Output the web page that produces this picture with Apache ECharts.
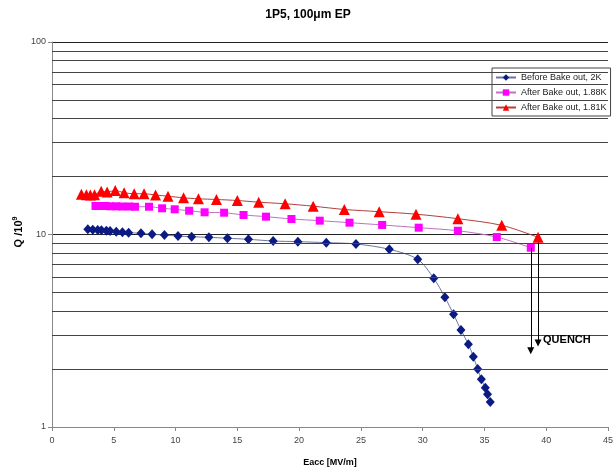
<!DOCTYPE html>
<html>
<head>
<meta charset="utf-8">
<script src="https://cdn.jsdelivr.net/npm/echarts@6/dist/echarts.min.js"></script>
<style>
html,body{margin:0;padding:0;background:#fff;}
#chart{width:616px;height:472px;}
</style>
</head>
<body>
<div id="chart"></div>
<script>
// ---- data ----
var titleText = '1P5, 100\u03bcm EP';
var seriesNames = ['Before Bake out, 2K', 'After Bake out, 1.88K', 'After Bake out, 1.81K'];
var xTicks = [0, 5, 10, 15, 20, 25, 30, 35, 40, 45];
var yTicks = [1, 10, 100];
var minorGridValues = [2, 3, 4, 5, 6, 7, 8, 9, 20, 30, 40, 50, 60, 70, 80, 90];

var blueX = [2.9, 3.3, 3.7, 4.0, 4.4, 4.7, 5.2, 5.7, 6.2, 7.2, 8.1, 9.1, 10.2, 11.3, 12.7, 14.2, 15.9, 17.9, 19.9, 22.2, 24.6, 27.3, 29.6, 30.9, 31.8, 32.5, 33.1, 33.7, 34.1, 34.45, 34.75, 35.07, 35.25, 35.47];
var blueQ = [10.64, 10.59, 10.55, 10.51, 10.46, 10.43, 10.34, 10.27, 10.22, 10.14, 10.02, 9.94, 9.82, 9.74, 9.67, 9.56, 9.44, 9.25, 9.18, 9.07, 8.93, 8.38, 7.43, 5.92, 4.72, 3.85, 3.19, 2.69, 2.32, 2.0, 1.77, 1.60, 1.48, 1.35];

var magX = [3.52, 3.92, 4.32, 4.72, 5.20, 5.68, 6.24, 6.72, 7.85, 8.91, 9.93, 11.1, 12.35, 13.93, 15.5, 17.32, 19.38, 21.67, 24.08, 26.72, 29.68, 32.85, 36.0, 38.75];
var magQ = [14.06, 14.06, 14.06, 14.01, 14.01, 13.98, 13.98, 13.94, 13.94, 13.68, 13.52, 13.29, 13.04, 12.98, 12.63, 12.38, 12.04, 11.80, 11.52, 11.21, 10.85, 10.46, 9.70, 8.54];

var redX = [2.38, 2.78, 3.10, 3.44, 3.98, 4.46, 5.12, 5.84, 6.65, 7.45, 8.38, 9.39, 10.65, 11.85, 13.31, 15.0, 16.73, 18.87, 21.14, 23.66, 26.48, 29.46, 32.85, 36.4, 39.34];
var redQ = [16.18, 16.10, 16.04, 16.10, 16.77, 16.63, 16.93, 16.47, 16.29, 16.29, 16.04, 15.81, 15.51, 15.33, 15.2, 15.02, 14.72, 14.44, 14.03, 13.49, 13.14, 12.75, 12.08, 11.16, 9.67];

// quench arrow end values (Q) for the 1.88K and 1.81K series
var quenchEndQ = [2.49, 2.73];
var quenchLabel = 'QUENCH';

function pairs(xs, ys) { return xs.map(function (x, i) { return [x, ys[i]]; }); }

var FONT = '"Liberation Sans", Arial, sans-serif';
var chart = echarts.init(document.getElementById('chart'), null, { renderer: 'canvas' });

function quenchLine(xs, ys, endQ) {
  var n = xs.length - 1;
  return {
    silent: true,
    symbol: ['none', 'triangle'],
    symbolSize: 7,
    label: { show: false },
    lineStyle: { color: '#000', width: 1, type: 'solid' },
    itemStyle: { color: '#000' },
    data: [[{ coord: [xs[n], ys[n]] }, { coord: [xs[n], endQ] }]]
  };
}

var option = {
  animation: false,
  backgroundColor: '#fff',
  title: {
    text: titleText,
    left: 'center',
    top: 4,
    textStyle: { fontFamily: FONT, fontSize: 12, fontWeight: 'bold', color: '#000' }
  },
  grid: { left: 52, right: 2, top: 42, bottom: 45, containLabel: false },
  legend: {
    orient: 'vertical',
    left: 492,
    top: 68,
    data: seriesNames,
    backgroundColor: '#fff',
    borderColor: '#444',
    borderWidth: 1,
    borderRadius: 0,
    padding: [5, 4, 4, 3],
    itemWidth: 20,
    itemHeight: 8,
    itemGap: 6,
    textStyle: { fontFamily: FONT, fontSize: 9, color: '#222' }
  },
  xAxis: {
    type: 'value',
    min: 0,
    max: 45,
    interval: 5,
    name: 'Eacc [MV/m]',
    nameLocation: 'middle',
    nameGap: 31,
    nameTextStyle: { fontFamily: FONT, fontSize: 9, fontWeight: 'bold', color: '#000' },
    axisLine: { lineStyle: { color: '#888', width: 1 } },
    axisTick: { show: true, length: 4, lineStyle: { color: '#888' } },
    axisLabel: {
      fontFamily: FONT, fontSize: 9, color: '#444', margin: 9,
      formatter: function (v) { return xTicks.indexOf(v) >= 0 ? String(v) : ''; }
    },
    splitLine: { show: false }
  },
  yAxis: {
    type: 'log',
    logBase: 10,
    min: 1,
    max: 100,
    axisLine: { show: true, lineStyle: { color: '#888', width: 1 } },
    axisTick: { show: true, length: 4, lineStyle: { color: '#888' } },
    axisLabel: {
      fontFamily: FONT, fontSize: 9, color: '#444', margin: 6,
      formatter: function (v) { return yTicks.indexOf(Math.round(v)) >= 0 ? String(Math.round(v)) : ''; }
    },
    splitLine: { show: true, lineStyle: { color: '#222', width: 1 } }
  },
  graphic: [{
    type: 'text',
    x: 19,
    y: 232,
    rotation: Math.PI / 2,
    style: {
      text: '{a|Q /10}{b|9}',
      align: 'center',
      verticalAlign: 'middle',
      rich: {
        a: { fontFamily: FONT, fontSize: 11, fontWeight: 'bold', fill: '#000', color: '#000', lineHeight: 14 },
        b: { fontFamily: FONT, fontSize: 7, fontWeight: 'bold', fill: '#000', color: '#000', verticalAlign: 'top', lineHeight: 14, padding: [0, 0, 6, 0] }
      }
    }
  }],
  series: [
    {
      name: 'grid-minor',
      type: 'line',
      data: [],
      silent: true,
      z: 1,
      markLine: {
        silent: true,
        symbol: ['none', 'none'],
        label: { show: false },
        lineStyle: { color: '#444', width: 1, type: 'solid' },
        data: minorGridValues.map(function (v) { return { yAxis: v }; })
      }
    },
    {
      name: seriesNames[0],
      type: 'line',
      z: 3,
      data: pairs(blueX, blueQ),
      smooth: 0.3,
      symbol: 'diamond',
      symbolSize: [9, 10],
      showAllSymbol: true,
      itemStyle: { color: '#0c1a84' },
      lineStyle: { color: '#6a74a0', width: 1 }
    },
    {
      name: seriesNames[1],
      type: 'line',
      z: 4,
      data: pairs(magX, magQ),
      smooth: 0.3,
      symbol: 'rect',
      symbolSize: [8, 8],
      showAllSymbol: true,
      itemStyle: { color: '#ff00ff' },
      lineStyle: { color: '#c070c0', width: 1 },
      markLine: quenchLine(magX, magQ, quenchEndQ[0])
    },
    {
      name: seriesNames[2],
      type: 'line',
      z: 5,
      data: pairs(redX, redQ),
      smooth: 0.3,
      symbol: 'triangle',
      symbolSize: [11, 11],
      showAllSymbol: true,
      itemStyle: { color: '#ff0000' },
      lineStyle: { color: '#b04040', width: 1 },
      markLine: quenchLine(redX, redQ, quenchEndQ[1])
    }
  ]
};
chart.setOption(option);

var p = chart.convertToPixel({ xAxisIndex: 0, yAxisIndex: 0 }, [redX[redX.length - 1], quenchEndQ[1]]);
chart.setOption({
  graphic: [{}, {
    type: 'text',
    x: p[0] + 5,
    y: p[1] - 3,
    style: {
      text: quenchLabel,
      fontFamily: FONT,
      fontSize: 11,
      fontWeight: 'bold',
      fill: '#000',
      verticalAlign: 'middle',
      align: 'left'
    },
    z: 10
  }]
});
</script>
</body>
</html>
